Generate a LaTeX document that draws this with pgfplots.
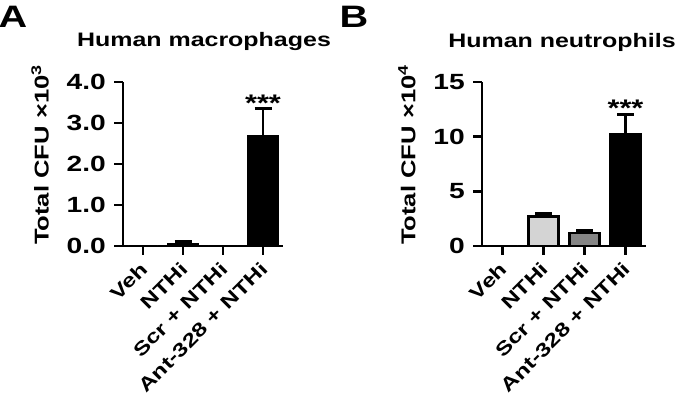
\documentclass[border=0pt]{standalone}
\usepackage{fontspec}
\setmainfont{Liberation Sans}[FakeStretch=1.28]
\usepackage{pgfplots}
\pgfplotsset{compat=1.18}
\definecolor{lg}{HTML}{D4D4D4}
\definecolor{dg}{HTML}{858585}
\begin{document}
\begin{tikzpicture}[x=1pt,y=1pt]
\path[use as bounding box] (0,0) rectangle (676,403);
\pgfplotsset{
 panel/.style={
  scale only axis, height=164pt, anchor=south west,
  axis x line*=bottom, axis y line*=left,
  axis line style={line width=2.8pt, -},
  xmin=-0.5, xmax=3.5, ymin=0,
  xtick={0,1,2,3},
  xticklabels={Veh, NTHi, Scr + NTHi, Ant-328 + NTHi},
  tick align=outside, major tick length=9pt,
  tick style={line width=2.8pt, black},
  yticklabel style={font=\fontsize{22}{24}\selectfont\bfseries, inner sep=1pt, xshift=-7pt},
  xticklabel style={xshift=2pt, yshift=-10pt, font=\fontsize{19}{21}\selectfont\bfseries, rotate=45, anchor=east, inner sep=1pt},
  /pgf/number format/assume math mode=true,
  clip=false,
 },
 bar/.style={ybar, bar width=0.72, bar shift=0pt, draw=black, line width=2.8pt,
   error bars/y dir=plus, error bars/y explicit,
   error bars/error bar style={line width=2.8pt, black},
   error bars/error mark options={rotate=90, mark size=8.5pt, line width=2.8pt, black}},
}
% Panel A
\node[font=\fontsize{31}{33}\selectfont\bfseries] at (13,386) {A};
\node[font=\fontsize{19.5}{21}\selectfont\bfseries] at (204,361) {Human macrophages};
\node[rotate=90, font=\fontsize{20}{22}\selectfont\bfseries] at (40,248) {Total CFU ×10\textsuperscript{3}};
\begin{axis}[panel, at={(123pt,157pt)}, width=160pt, ymax=4,
  ytick={0,1,2,3,4}, yticklabels={0.0,1.0,2.0,3.0,4.0}]
\addplot[bar, fill=white] coordinates {(0,0) +- (0,0)};
\addplot[bar, fill=lg] coordinates {(1,0.05) +- (0,0.05)};
\addplot[bar, fill=dg] coordinates {(2,0.0) +- (0,0)};
\addplot[bar, fill=black] coordinates {(3,2.68) +- (0,0.68)};
\node[anchor=base, yshift=-3pt, font=\fontsize{24}{26}\selectfont\bfseries] at (axis cs:3,3.36) {***};
\end{axis}
% Panel B
\node[font=\fontsize{31}{33}\selectfont\bfseries] at (354,386) {B};
\node[font=\fontsize{19.5}{21}\selectfont\bfseries] at (562,361) {Human neutrophils};
\node[rotate=90, font=\fontsize{20}{22}\selectfont\bfseries] at (407,248) {Total CFU ×10\textsuperscript{4}};
\begin{axis}[panel, at={(482pt,157pt)}, width=164pt, ymax=15,
  ytick={0,5,10,15}]
\addplot[bar, fill=white] coordinates {(0,0) +- (0,0)};
\addplot[bar, fill=lg] coordinates {(1,2.7) +- (0,0.3)};
\addplot[bar, fill=dg] coordinates {(2,1.18) +- (0,0.26)};
\addplot[bar, fill=black] coordinates {(3,10.2) +- (0,1.8)};
\node[anchor=base, yshift=-2pt, font=\fontsize{24}{26}\selectfont\bfseries] at (axis cs:3,12.0) {***};
\end{axis}
\end{tikzpicture}
\end{document}
